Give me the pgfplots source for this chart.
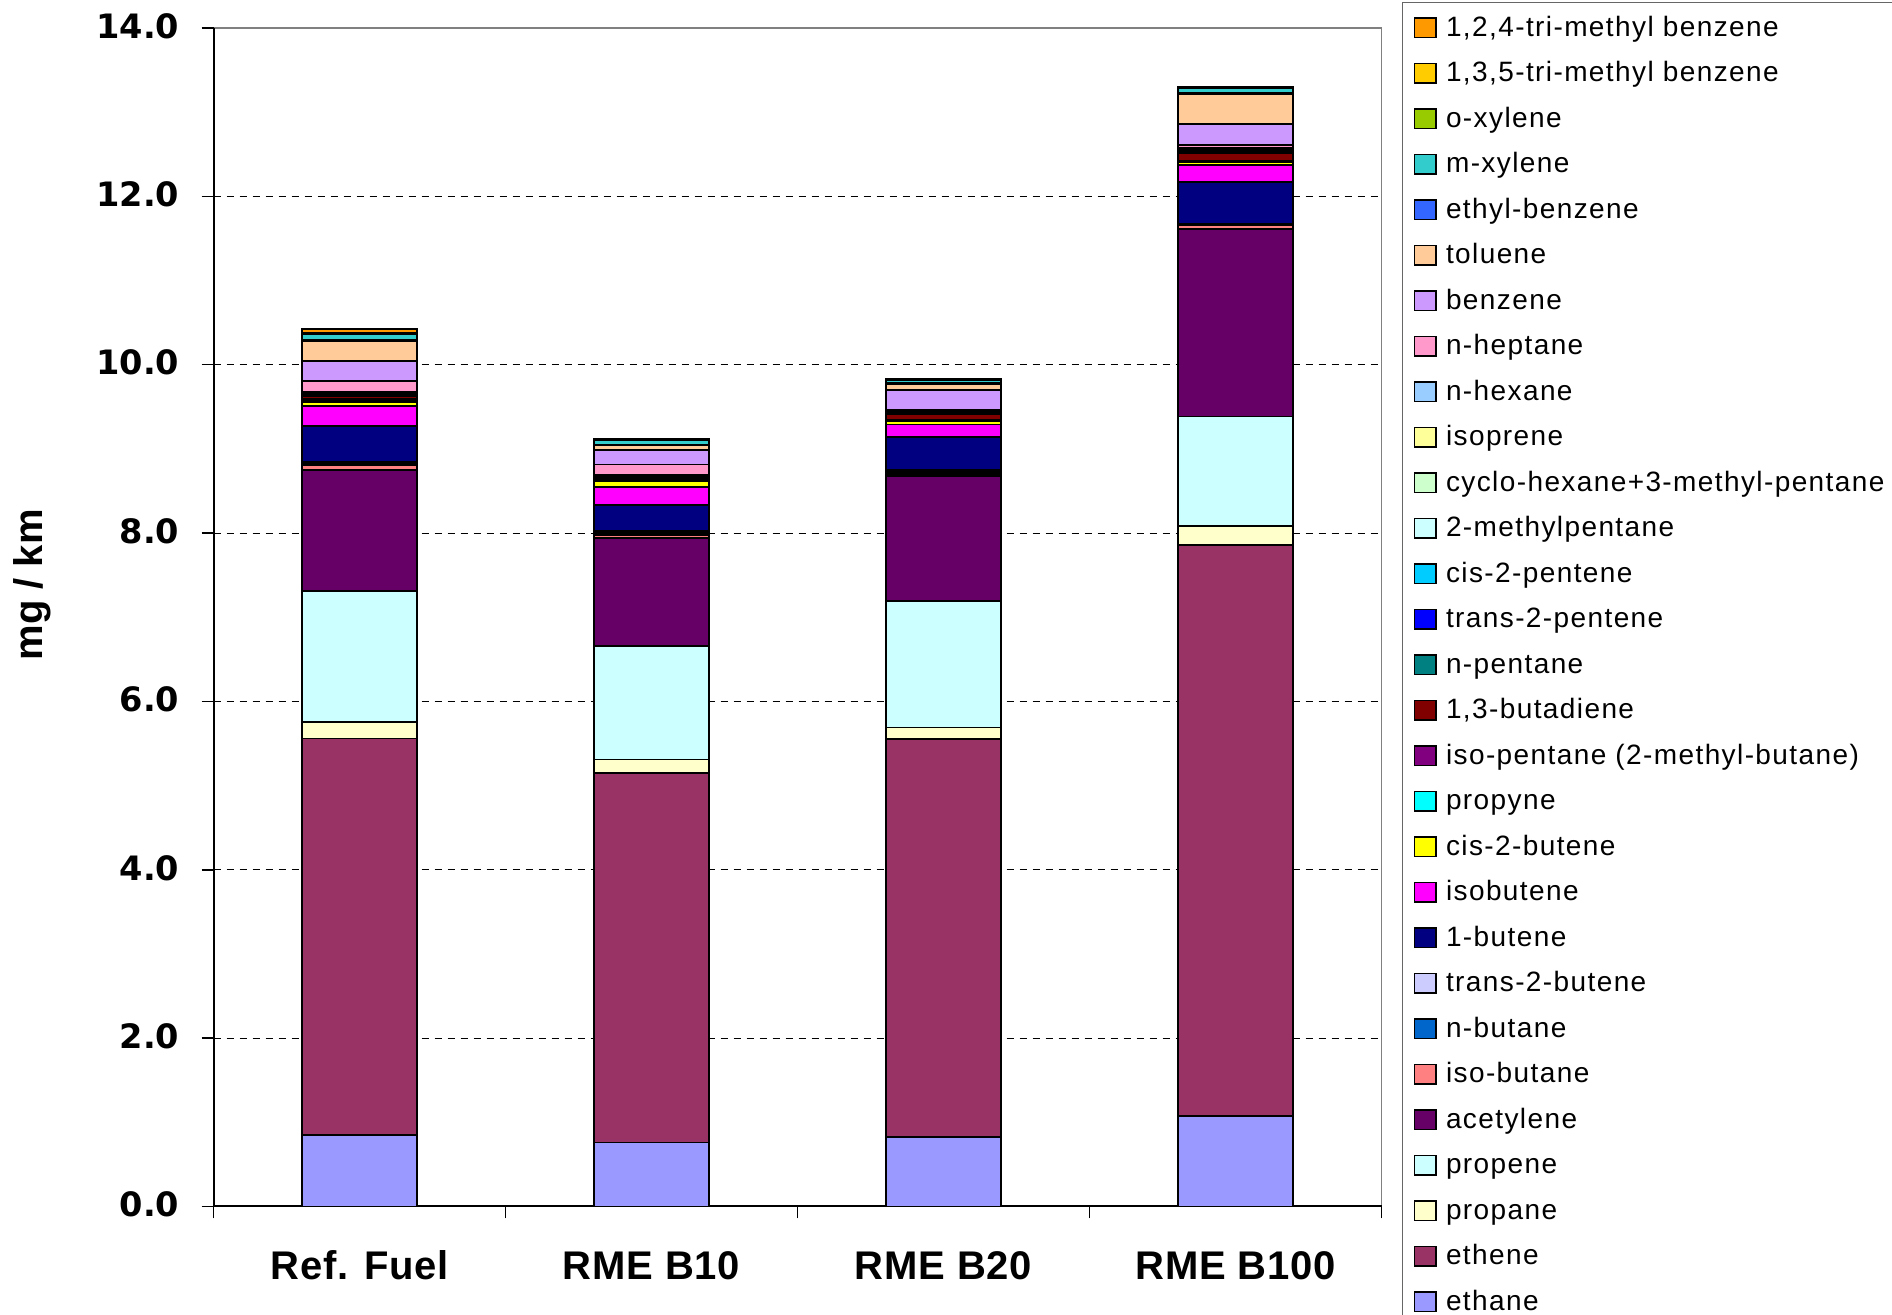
\documentclass[border=0pt]{standalone}
\usepackage{fontspec}
\setmainfont{Liberation Sans}
\newfontfamily\tickfont{DejaVu Sans}
\newfontfamily\catfont[LetterSpace=2]{Liberation Sans}
\newfontfamily\legfont[LetterSpace=5]{Liberation Sans}
\usepackage{pgfplots}
\usepackage{pgfplotstable}
\pgfplotsset{compat=1.18}

% segment colours
\definecolor{ethane}{HTML}{9999FF}
\definecolor{ethene}{HTML}{993366}
\definecolor{propane}{HTML}{FFFFCC}
\definecolor{propene}{HTML}{CCFFFF}
\definecolor{acetylene}{HTML}{660066}
\definecolor{isobutane}{HTML}{FF8080}
\definecolor{nbutane}{HTML}{0066CC}
\definecolor{ttwobutene}{HTML}{CCCCFF}
\definecolor{onebutene}{HTML}{000080}
\definecolor{isobutene}{HTML}{FF00FF}
\definecolor{ctwobutene}{HTML}{FFFF00}
\definecolor{propyne}{HTML}{00FFFF}
\definecolor{isopentane}{HTML}{800080}
\definecolor{butadiene}{HTML}{800000}
\definecolor{npentane}{HTML}{008080}
\definecolor{ttwopentene}{HTML}{0000FF}
\definecolor{ctwopentene}{HTML}{00CCFF}
\definecolor{twompentane}{HTML}{CCFFFF}
\definecolor{cyclohexane}{HTML}{CCFFCC}
\definecolor{isoprene}{HTML}{FFFF99}
\definecolor{nhexane}{HTML}{99CCFF}
\definecolor{nheptane}{HTML}{FF99CC}
\definecolor{benzene}{HTML}{CC99FF}
\definecolor{toluene}{HTML}{FFCC99}
\definecolor{ethylbenzene}{HTML}{3366FF}
\definecolor{mxylene}{HTML}{33CCCC}
\definecolor{oxylene}{HTML}{99CC00}
\definecolor{tmbA}{HTML}{FFCC00}
\definecolor{tmbB}{HTML}{FF9900}

% emissions in mg/km; x = 0 Ref. Fuel, 1 RME B10, 2 RME B20, 3 RME B100
\pgfplotstableread{
x ethane ethene propane propene acetylene isobutane nbutane ttwobutene onebutene isobutene ctwobutene propyne isopentane butadiene npentane ttwopentene ctwopentene twompentane cyclohexane isoprene nhexane nheptane benzene toluene ethylbenzene mxylene oxylene tmbA tmbB
0 0.85  4.71 0.20 1.55 1.44 0.06 0.02 0.02 0.42 0.24 0.05 0.01 0.02 0.04 0.01  0.005 0.005 0.01  0.005 0.005 0.01  0.13 0.23 0.24 0.01  0.07 0.01  0.01  0.04
1 0.76  4.39 0.16 1.35 1.28 0.04 0.02 0.02 0.31 0.22 0.07 0.01 0.01 0.02 0.005 0.005 0.005 0.005 0.005 0.005 0.005 0.12 0.17 0.06 0.005 0.05 0.005 0.005 0.01
2 0.83  4.72 0.14 1.50 1.49 0.02 0.03 0.02 0.39 0.15 0.04 0.01 0.01 0.06 0.005 0.005 0.005 0.005 0.005 0.005 0.005 0.02 0.23 0.08 0.005 0.04 0.005 0.005 0.005
3 1.075 6.78 0.23 1.30 2.23 0.04 0.01 0.01 0.50 0.20 0.03 0.01 0.01 0.09 0.005 0.005 0.005 0.005 0.005 0.01  0.02  0.04 0.25 0.36 0.005 0.06 0.005 0.005 0.01
}\emissions

\pgfplotsset{seg/.style={fill=#1, draw=black, line width=0.9pt}}

\begin{document}
\begin{tikzpicture}
\useasboundingbox (0,0) rectangle (946pt,657.5pt);
\clip (0,0) rectangle (946pt,657.5pt);
\begin{axis}[
  at={(106.8pt,54.25pt)}, anchor=south west,
  scale only axis, width=584pt, height=589.25pt,
  ybar stacked, bar width=57.6pt,
  xmin=-0.5, xmax=3.5, ymin=0, ymax=14,
  axis lines*=left,
  axis line style={black, line width=1pt},
  axis background/.style={draw=black!50, line width=0.6pt},
  tick align=outside,
  major tick length=6pt,
  tick style={black, line width=0.8pt},
  xtick={-0.5,0.5,1.5,2.5,3.5}, xticklabels={,,,,},
  extra x ticks={0,1,2,3},
  extra x tick labels={Ref. Fuel,RME B10,RME B20,RME B100},
  extra x tick style={major tick length=0pt, tick style={draw=none},
    xticklabel style={font=\catfont\bfseries\fontsize{20}{24}\selectfont,
      anchor=base, inner sep=0pt, yshift=-36.4pt}},
  ytick={0,2,...,14},
  yticklabels={0.0,2.0,4.0,6.0,8.0,10.0,12.0,14.0},
  yticklabel style={font=\tickfont\bfseries\fontsize{16.8}{18}\selectfont,
    anchor=east, inner sep=0pt, xshift=-11pt, yshift=1pt},
  extra y ticks={2,4,...,12}, extra y tick labels={},
  extra y tick style={grid=major, major tick length=0pt, tick style={draw=none}},
  major grid style={black, line width=0.5pt, dash pattern=on 3.5pt off 3pt},
  ylabel={mg / km},
  ylabel style={font=\bfseries\fontsize{20}{24}\selectfont,
    at={(axis description cs:-0.1551,0.5274)}, anchor=center},
  every axis plot post/.append style={
    legend image code/.code={\draw[##1,draw=black,line width=0.8pt] (0pt,-0.5pt) rectangle (10.8pt,9.2pt);}},
  reverse legend,
  legend style={at={(axis description cs:1.018,1.0216)}, anchor=north west,
    draw=none, fill=none, inner xsep=5.4pt, inner ysep=6.7pt, row sep=9.25pt,
    font=\legfont\fontsize{14}{16}\selectfont,
    nodes={inner sep=0pt, text height=10pt, text depth=3.5pt, anchor=base west},
    /tikz/column 1/.style={column sep=4.5pt}},
]
\addplot[seg=ethane]       table[x=x,y=ethane]{\emissions};       \addlegendentry{ethane}
\addplot[seg=ethene]       table[x=x,y=ethene]{\emissions};       \addlegendentry{ethene}
\addplot[seg=propane]      table[x=x,y=propane]{\emissions};      \addlegendentry{propane}
\addplot[seg=propene]      table[x=x,y=propene]{\emissions};      \addlegendentry{propene}
\addplot[seg=acetylene]    table[x=x,y=acetylene]{\emissions};    \addlegendentry{acetylene}
\addplot[seg=isobutane]    table[x=x,y=isobutane]{\emissions};    \addlegendentry{iso-butane}
\addplot[seg=nbutane]      table[x=x,y=nbutane]{\emissions};      \addlegendentry{n-butane}
\addplot[seg=ttwobutene]   table[x=x,y=ttwobutene]{\emissions};   \addlegendentry{trans-2-butene}
\addplot[seg=onebutene]    table[x=x,y=onebutene]{\emissions};    \addlegendentry{1-butene}
\addplot[seg=isobutene]    table[x=x,y=isobutene]{\emissions};    \addlegendentry{isobutene}
\addplot[seg=ctwobutene]   table[x=x,y=ctwobutene]{\emissions};   \addlegendentry{cis-2-butene}
\addplot[seg=propyne]      table[x=x,y=propyne]{\emissions};      \addlegendentry{propyne}
\addplot[seg=isopentane]   table[x=x,y=isopentane]{\emissions};   \addlegendentry{iso-pentane (2-methyl-butane)}
\addplot[seg=butadiene]    table[x=x,y=butadiene]{\emissions};    \addlegendentry{1,3-butadiene}
\addplot[seg=npentane]     table[x=x,y=npentane]{\emissions};     \addlegendentry{n-pentane}
\addplot[seg=ttwopentene]  table[x=x,y=ttwopentene]{\emissions};  \addlegendentry{trans-2-pentene}
\addplot[seg=ctwopentene]  table[x=x,y=ctwopentene]{\emissions};  \addlegendentry{cis-2-pentene}
\addplot[seg=twompentane]  table[x=x,y=twompentane]{\emissions};  \addlegendentry{2-methylpentane}
\addplot[seg=cyclohexane]  table[x=x,y=cyclohexane]{\emissions};  \addlegendentry{cyclo-hexane+3-methyl-pentane}
\addplot[seg=isoprene]     table[x=x,y=isoprene]{\emissions};     \addlegendentry{isoprene}
\addplot[seg=nhexane]      table[x=x,y=nhexane]{\emissions};      \addlegendentry{n-hexane}
\addplot[seg=nheptane]     table[x=x,y=nheptane]{\emissions};     \addlegendentry{n-heptane}
\addplot[seg=benzene]      table[x=x,y=benzene]{\emissions};      \addlegendentry{benzene}
\addplot[seg=toluene]      table[x=x,y=toluene]{\emissions};      \addlegendentry{toluene}
\addplot[seg=ethylbenzene] table[x=x,y=ethylbenzene]{\emissions}; \addlegendentry{ethyl-benzene}
\addplot[seg=mxylene]      table[x=x,y=mxylene]{\emissions};      \addlegendentry{m-xylene}
\addplot[seg=oxylene]      table[x=x,y=oxylene]{\emissions};      \addlegendentry{o-xylene}
\addplot[seg=tmbA]         table[x=x,y=tmbA]{\emissions};         \addlegendentry{1,3,5-tri-methyl benzene}
\addplot[seg=tmbB]         table[x=x,y=tmbB]{\emissions};         \addlegendentry{1,2,4-tri-methyl benzene}
\end{axis}
% legend frame (left and top edges; the rest runs off the page)
\draw[black!60, line width=0.8pt] (701.3pt,-5pt) -- (701.3pt,656.2pt) -- (960pt,656.2pt);
\end{tikzpicture}
\end{document}
